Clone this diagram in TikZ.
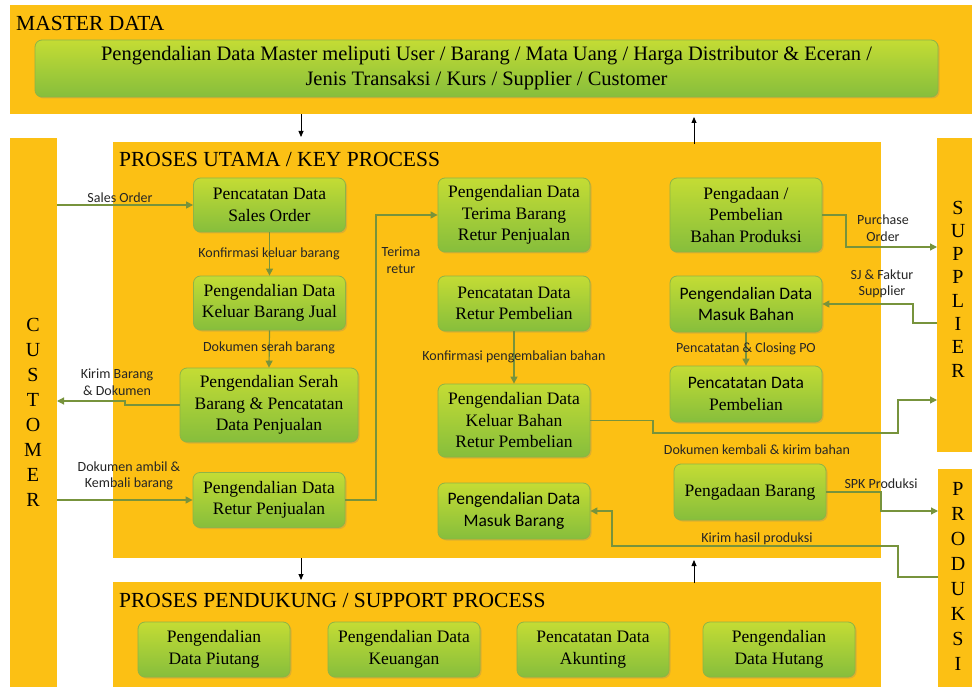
\documentclass[tikz,border=0pt]{standalone}
\usepackage{fontspec}
\setmainfont{Liberation Serif}
\newfontfamily\sansf{Carlito}
\usetikzlibrary{arrows.meta,shadows}
\definecolor{bandc}{RGB}{252,192,20}
\definecolor{gtop}{RGB}{196,220,52}
\definecolor{gbot}{RGB}{134,190,60}
\definecolor{boxdraw}{RGB}{142,180,70}
\definecolor{linec}{RGB}{119,147,60}
\newcommand\boxfont{\fontsize{17.5}{21.5}\selectfont}
\newcommand\boxsans{\sansf\fontsize{17.5}{21.5}\selectfont}
\newcommand\lblfont{\sansf\fontsize{14}{16.5}\selectfont}
\newcommand\headfont{\fontsize{21.5}{25}\selectfont}
\begin{document}
\begin{tikzpicture}[x=1pt,y=-1pt,
  band/.style={fill=bandc,draw=none,inner sep=0,outer sep=0,anchor=north west},
  pbox/.style={draw=boxdraw,line width=0.8pt,top color=gtop,bottom color=gbot,rounded corners=7pt,
    drop shadow={opacity=0.25,shadow xshift=1.5pt,shadow yshift=-1.5pt},
    align=center,font=\boxfont,inner sep=2pt,minimum width=152pt,minimum height=55pt},
  conn/.style={draw=linec,line width=1.2pt,-{Triangle[length=7pt,width=7pt]}},
  lbl/.style={font=\lblfont,text=black!85,align=center,inner sep=0},
  marr/.style={-{Triangle[length=6pt,width=5pt]},line width=0.8pt,black},
  head/.style={font=\headfont,anchor=base west,inner sep=0},
  vlet/.style={align=center,inner sep=0}]
\useasboundingbox (0,0) rectangle (972,687);
\fill[white] (0,0) rectangle (972,687);
% bands
\node[band,minimum width=962pt,minimum height=109pt] (master) at (10,5) {};
\node[band,minimum width=47pt,minimum height=549pt] (cust) at (10,138) {};
\node[band,minimum width=768pt,minimum height=416pt] (key) at (113,142) {};
\node[band,minimum width=35pt,minimum height=314pt] (sup) at (937,138) {};
\node[band,minimum width=34pt,minimum height=218pt] (prod) at (938,469) {};
\node[band,minimum width=768pt,minimum height=105pt] (supp) at (113,582) {};
% headings
\node[head] (hmaster) at (16,31) {MASTER DATA};
\node[head] (hkey) at (119,167) {PROSES UTAMA / KEY PROCESS};
\node[head] (hsupp) at (119,607) {PROSES PENDUKUNG / SUPPORT PROCESS};
\node[vlet,font=\fontsize{20}{25}\selectfont] (lcust) at (33,412) {C\\U\\S\\T\\O\\M\\E\\R};
\node[vlet,font=\fontsize{20}{23.3}\selectfont] (lsup) at (958,289) {S\\U\\P\\P\\L\\I\\E\\R};
\node[vlet,font=\fontsize{20}{25}\selectfont] (lprod) at (958,576) {P\\R\\O\\D\\U\\K\\S\\I};
% master box
\node[pbox,minimum width=903pt,minimum height=57pt,font=\fontsize{20.5}{25}\selectfont] (mbox) at (486.5,68.5)
  {Pengendalian Data Master meliputi User / Barang / Mata Uang / Harga Distributor \& Eceran /\\Jenis Transaksi / Kurs / Supplier / Customer};
% key process boxes
\node[pbox,minimum height=54pt] (so) at (269.5,205) {Pencatatan Data\\Sales Order};
\node[pbox,minimum height=54pt] (kb) at (269.5,303) {Pengendalian Data\\Keluar Barang Jual};
\node[pbox,minimum width=178pt,minimum height=74pt] (sb) at (269,405) {Pengendalian Serah\\Barang \& Pencatatan\\Data Penjualan};
\node[pbox] (rp) at (269,500) {Pengendalian Data\\Retur Penjualan};
\node[pbox,minimum height=74pt] (tb) at (514,215) {Pengendalian Data\\Terima Barang\\Retur Penjualan};
\node[pbox] (rb) at (514,303.5) {Pencatatan Data\\Retur Pembelian};
\node[pbox,minimum height=73pt] (kbr) at (514,420.5) {Pengendalian Data\\Keluar Bahan\\Retur Pembelian};
\node[pbox,minimum height=56pt,font=\boxsans] (mb) at (514,511) {Pengendalian Data\\Masuk Barang};
\node[pbox,minimum height=74pt] (pb) at (746,215) {Pengadaan /\\Pembelian\\Bahan Produksi};
\node[pbox,minimum height=56pt,font=\boxsans] (mbh) at (746,304) {Pengendalian Data\\Masuk Bahan};
\node[pbox,minimum height=56pt] (pdb) at (746,394) {{\boxsans Pencatatan Data}\\Pembelian};
\node[pbox,minimum height=56pt] (pbg) at (750,492) {Pengadaan Barang};
% support boxes
\node[pbox] (piu) at (214,649.5) {Pengendalian\\Data Piutang};
\node[pbox] (keu) at (404,649.5) {Pengendalian Data\\Keuangan};
\node[pbox] (aku) at (593,649.5) {Pencatatan Data\\Akunting};
\node[pbox] (hut) at (779,649.5) {Pengendalian\\Data Hutang};
% black arrows between bands
\draw[marr] (master.south -| 301,0) -- ([yshift=5pt]key.north -| 301,0);
\draw[marr] ([yshift=-2pt]key.north -| 694,0) -- ([yshift=-3pt]master.south -| 694,0);
\draw[marr] (key.south -| 301,0) -- ([yshift=2pt]supp.north -| 301,0);
\draw[marr] ([yshift=-1pt]supp.north -| 694,0) -- ([yshift=-2pt]key.south -| 694,0);
% connectors
\draw[conn] (so.west -| cust.east) -- (so.west);
\node[lbl] (l1) at (120,198) {Sales Order};
\draw[conn] (so.south) -- (kb.north);
\node[lbl] (l2) at (269,254) {Konfirmasi keluar barang};
\draw[conn] (kb.south) -- (sb.north);
\node[lbl] (l3) at (269,348) {Dokumen serah barang};
\draw[conn] (sb.west) -- (125,405) -- (125,401) -- (cust.east |- 0,401);
\node[lbl] (l4) at (117,382) {Kirim Barang\\\& Dokumen};
\draw[conn] (rp.west -| cust.east) -- (rp.west);
\node[lbl] (l5) at (129,476) {Dokumen ambil \&\\Kembali barang};
\draw[conn] (rp.east) -- (376,500) |- (tb.west);
\node[lbl] (l6) at (401,260) {Terima\\retur};
\draw[conn] (rb.south) -- (kbr.north);
\node[lbl] (l7) at (514,357) {Konfirmasi pengembalian bahan};
\draw[conn] (kbr.east) -| (653,433) -| (898,400) -- (sup.west |- 0,400);
\node[lbl] (l8) at (757,450) {Dokumen kembali \& kirim bahan};
\draw[conn] (pb.east) -- (846,215) |- (sup.west |- 0,247);
\node[lbl] (l9) at (883,228) {Purchase\\Order};
\draw[conn] (sup.west |- 0,323) -- (913,323) |- (mbh.east);
\node[lbl] (l10) at (882,284) {SJ \& Faktur\\Supplier};
\draw[conn] (mbh.south) -- (pdb.north);
\node[lbl] (l11) at (746,349) {Pencatatan \& Closing PO};
\draw[conn] (pbg.east) -- (881,492) |- (prod.west |- 0,511);
\node[lbl] (l12) at (881,484) {SPK Produksi};
\draw[conn] (prod.west |- 0,577) -| (898,546) -| (612,511) -- (mb.east);
\node[lbl] (l13) at (757,539) {Kirim hasil produksi};
\end{tikzpicture}
\end{document}
